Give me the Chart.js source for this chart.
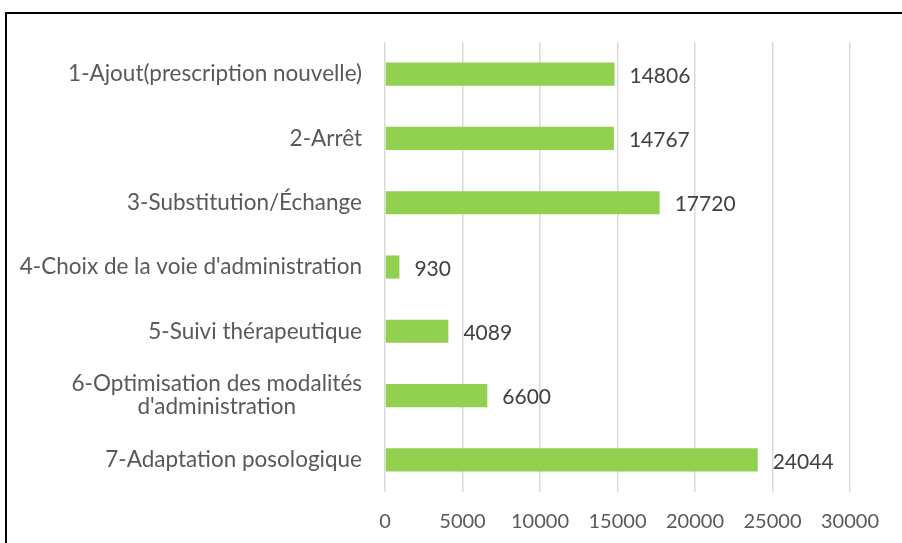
<!DOCTYPE html>
<html lang="fr">
<head>
  <meta charset="UTF-8" />
  <title>Interventions pharmaceutiques</title>
  <script src="https://cdn.jsdelivr.net/npm/chart.js"></script>
  <style>
    html, body { margin: 0; padding: 0; background: #fff; overflow: hidden; }
    .frame {
      position: absolute; left: 5px; top: 12px; width: 1000px; height: 700px;
      border-left: 2px solid #000; border-top: 2px solid #000;
    }
    .wrap { position: absolute; left: 0; top: 0; width: 902px; height: 543px; }
  </style>
</head>
<body>
  <div class="frame"></div>
  <div class="wrap"><canvas id="chart"></canvas></div>

  <script>
    const categories = [
      ['1-Ajout(prescription nouvelle)'],
      ['2-Arrêt'],
      ['3-Substitution/Échange'],
      ["4-Choix de la voie d'administration"],
      ['5-Suivi thérapeutique'],
      ['6-Optimisation des modalités', "d'administration"],
      ['7-Adaptation posologique']
    ];
    const values = [14806, 14767, 17720, 930, 4089, 6600, 24044];
    const xTicks = [0, 5000, 10000, 15000, 20000, 25000, 30000];

    const FONT = 'Lato, "Open Sans", sans-serif';

    // category labels drawn by hand so the two-line one stays centred
    const catLabels = {
      id: 'catLabels',
      afterDraw(chart) {
        const ctx = chart.ctx, y = chart.scales.y;
        const right = chart.chartArea.left - 23;
        ctx.save();
        ctx.font = '22.5px ' + FONT;
        ctx.fillStyle = '#595959';
        ctx.textBaseline = 'middle';
        ctx.textAlign = 'center';
        categories.forEach((lines, i) => {
          const w = Math.max(...lines.map(l => ctx.measureText(l).width));
          const cx = right - w / 2;
          const yc = y.getPixelForValue(i);
          const lh = 23;
          lines.forEach((l, k) => {
            ctx.fillText(l, cx, yc + (k - (lines.length - 1) / 2) * lh);
          });
        });
        ctx.restore();
      }
    };

    const valueLabels = {
      id: 'valueLabels',
      afterDatasetsDraw(chart) {
        const ctx = chart.ctx;
        ctx.save();
        ctx.font = '21px ' + FONT;
        ctx.fillStyle = '#404040';
        ctx.textBaseline = 'middle';
        ctx.textAlign = 'left';
        chart.getDatasetMeta(0).data.forEach((bar, i) => {
          ctx.fillText(String(values[i]), bar.x + 15, bar.y + 2);
        });
        ctx.restore();
      }
    };

    new Chart(document.getElementById('chart'), {
      type: 'bar',
      data: {
        labels: categories.map(c => c.join(' ')),
        datasets: [{
          data: values,
          backgroundColor: '#92d050',
          barPercentage: 0.36,
          categoryPercentage: 1
        }]
      },
      options: {
        indexAxis: 'y',
        responsive: true,
        maintainAspectRatio: false,
        animation: false,
        layout: { padding: { top: 42, right: 52, bottom: 0, left: 0 } },
        plugins: { legend: { display: false }, tooltip: { enabled: false } },
        scales: {
          x: {
            min: 0, max: 30000,
            afterBuildTicks: s => { s.ticks = xTicks.map(v => ({ value: v })); },
            afterFit: s => { s.height = 51; },
            grid: { color: '#d9d9d9', lineWidth: 1.5, drawTicks: false },
            border: { display: false },
            ticks: {
              color: '#595959', font: { family: FONT, size: 20 }, padding: 18,
              callback: v => String(v)
            }
          },
          y: {
            afterFit: s => { s.width = 385; },
            grid: { display: false },
            border: { display: false },
            ticks: { display: false }
          }
        }
      },
      plugins: [catLabels, valueLabels]
    });
  </script>
</body>
</html>
